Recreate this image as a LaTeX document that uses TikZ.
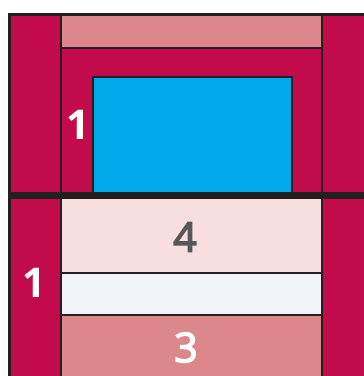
\documentclass[tikz,border=0pt]{standalone}
\usepackage{fontspec}
\setmainfont{Open Sans}
\newfontfamily\medfont[FakeBold=3.5]{Open Sans}
\definecolor{crim}{HTML}{C20B4A}
\definecolor{rose}{HTML}{DC878C}
\definecolor{sky}{HTML}{00AAE8}
\definecolor{blush}{HTML}{F8DEDF}
\definecolor{mist}{HTML}{F1F4F9}
\definecolor{ink}{HTML}{231F20}
\definecolor{digitgray}{HTML}{55575A}
\begin{document}
\begin{tikzpicture}[x=1pt,y=-1pt,
  edge/.style={draw=ink,line width=2pt},
  digit/.style={font=\fontsize{41}{41}\selectfont\bfseries,inner sep=0pt},
  mdigit/.style={font=\fontsize{41}{41}\medfont,inner sep=0pt}]
\useasboundingbox (0,0) rectangle (364,376);
\fill[white] (0,0) rectangle (364,376);
% regions
\fill[crim] (9,14) rectangle (364,376);
\fill[rose] (61,15) rectangle (322,48);
\fill[blush] (61,196) rectangle (322,272.5);
\fill[mist] (61,272.5) rectangle (322,315);
\fill[rose] (61,315) rectangle (322,376);
\draw[ink,line width=2pt,fill=sky] (92.5,76.5) rectangle (291.5,194);
% lines
\draw[ink,line width=3pt] (8,14.5) -- (364,14.5);
\draw[ink,line width=3pt] (9.5,13) -- (9.5,376);
\draw[edge] (61,15) -- (61,376);
\draw[edge] (322,15) -- (322,376);
\draw[edge] (61,48) -- (322,48);
\draw[edge] (61,272.5) -- (322,272.5);
\draw[edge] (61,315) -- (322,315);
\draw[ink,line width=7pt] (8,195.5) -- (364,195.5);
% labels
\node[digit,text=white] (one-top) at (78,125) {1};
\node[digit,text=white] (one-bot) at (34,283) {1};
\node[mdigit,text=digitgray] (four) at (185,237) {4};
\node[mdigit,text=white] (three) at (186,347.5) {3};
\end{tikzpicture}
\end{document}
